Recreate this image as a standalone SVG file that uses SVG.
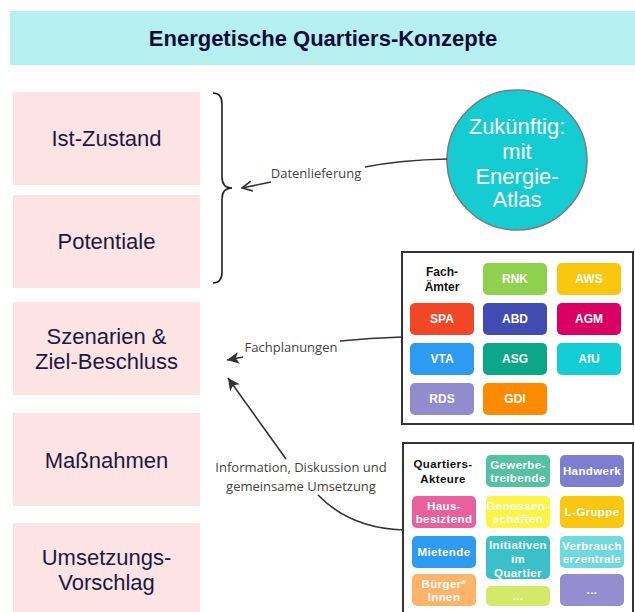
<svg xmlns="http://www.w3.org/2000/svg" width="635" height="612" viewBox="0 0 635 612">
<style>
.step{fill:#fde3e4}
.steptxt{font-family:"Liberation Sans",Arial,sans-serif;font-size:22px;fill:#1a1a40;text-anchor:middle}
.lbl{font-family:"Open Sans","DejaVu Sans",sans-serif;font-size:13px;fill:#444;text-anchor:middle}
.conn{fill:none;stroke:#333;stroke-width:1.6}
.cell text,.ctxt{font-family:"Liberation Sans",Arial,sans-serif;font-size:11.5px;font-weight:bold;fill:#fff;text-anchor:middle}
.f text{font-size:12px}
.q{letter-spacing:0.4px}
.head{font-family:"Liberation Sans",Arial,sans-serif;font-size:11.5px;font-weight:bold;fill:#111;text-anchor:middle}
.panel{fill:#fff;stroke:#333;stroke-width:2}
</style>
<defs>
<marker id="open" viewBox="0 0 12 12" refX="11" refY="6" markerWidth="12" markerHeight="12" markerUnits="userSpaceOnUse" orient="auto">
<path d="M1,1 L11,6 L1,11" fill="none" stroke="#333" stroke-width="1.6"/>
</marker>
<marker id="solid" viewBox="0 0 14 14" refX="13" refY="7" markerWidth="14" markerHeight="14" markerUnits="userSpaceOnUse" orient="auto">
<path d="M1,1 L13,7 L1,13 L4,7 Z" fill="#333"/>
</marker>
</defs>
<g id="title">
<rect x="10" y="11" width="625" height="54" fill="#b6eff0"/>
<text x="323" y="46" font-family="'Liberation Sans',Arial,sans-serif" font-size="22" font-weight="bold" fill="#0d0d3a" text-anchor="middle">Energetische Quartiers-Konzepte</text>
</g>
<g id="ist-zustand"><rect class="step" x="13" y="92" width="187" height="93"/><text class="steptxt" x="106.5" y="146">Ist-Zustand</text></g>
<g id="potentiale"><rect class="step" x="13" y="195" width="187" height="93"/><text class="steptxt" x="106.5" y="249">Potentiale</text></g>
<g id="szenarien"><rect class="step" x="13" y="302" width="187" height="93"/><text class="steptxt" x="106.5" y="344">Szenarien &amp;</text><text class="steptxt" x="106.5" y="369">Ziel-Beschluss</text></g>
<g id="massnahmen"><rect class="step" x="13" y="413" width="187" height="93"/><text class="steptxt" x="106.5" y="468">Maßnahmen</text></g>
<g id="umsetzung"><rect class="step" x="13" y="523" width="187" height="95"/><text class="steptxt" x="106.5" y="565">Umsetzungs-</text><text class="steptxt" x="106.5" y="590">Vorschlag</text></g>
<g id="brace"><path d="M213,93 Q222,93 222,104 L222,177 Q222,188 232,188 Q222,188 222,199 L222,272 Q222,283 213,283" fill="none" stroke="#222" stroke-width="1.6"/></g>
<g id="energie-atlas">
<circle cx="517" cy="160" r="70" fill="#16ccd3" stroke="#7a7a7a" stroke-width="1.5"/>
<g font-family="'Liberation Sans',Arial,sans-serif" font-size="22" fill="#fff" text-anchor="middle">
<text x="517" y="134">Zukünftig:</text><text x="517" y="159">mit</text><text x="517" y="184">Energie-</text><text x="517" y="207">Atlas</text>
</g>
</g>
<g id="fachaemter" class="f">
<rect class="panel" x="402" y="252" width="231" height="172"/>
<text class="head" x="442" y="276">Fach-</text><text class="head" x="442" y="291">Ämter</text>
<g class="cell"><rect x="483" y="263" width="64" height="32" rx="5" fill="#8fd14f"/><text x="515" y="283">RNK</text></g>
<g class="cell"><rect x="557" y="263" width="64" height="32" rx="5" fill="#fac710"/><text x="589" y="283">AWS</text></g>
<g class="cell"><rect x="410" y="303" width="64" height="32" rx="5" fill="#f24726"/><text x="442" y="323">SPA</text></g>
<g class="cell"><rect x="483" y="303" width="64" height="32" rx="5" fill="#414bb2"/><text x="515" y="323">ABD</text></g>
<g class="cell"><rect x="557" y="303" width="64" height="32" rx="5" fill="#da0063"/><text x="589" y="323">AGM</text></g>
<g class="cell"><rect x="410" y="343" width="64" height="32" rx="5" fill="#2d9bf0"/><text x="442" y="363">VTA</text></g>
<g class="cell"><rect x="483" y="343" width="64" height="32" rx="5" fill="#0ca789"/><text x="515" y="363">ASG</text></g>
<g class="cell"><rect x="557" y="343" width="64" height="32" rx="5" fill="#12cdd4"/><text x="589" y="363">AfU</text></g>
<g class="cell"><rect x="410" y="383" width="64" height="32" rx="5" fill="#928bce"/><text x="442" y="403">RDS</text></g>
<g class="cell"><rect x="483" y="383" width="64" height="32" rx="5" fill="#fc8b00"/><text x="515" y="403">GDI</text></g>
</g>
<g id="quartiersakteure">
<rect class="panel" x="403" y="443" width="230" height="185"/>
<text class="head q" x="443" y="468">Quartiers-</text><text class="head q" x="443" y="483">Akteure</text>
<g class="cell q"><rect x="486" y="455" width="64" height="32" rx="5" fill="#52c2a0"/><text x="518" y="469">Gewerbe-</text><text x="518" y="482">treibende</text></g>
<g class="cell q"><rect x="560" y="455" width="64" height="32" rx="5" fill="#7c7fd0"/><text x="592" y="475">Handwerk</text></g>
<g class="cell q"><rect x="412" y="496" width="64" height="32" rx="5" fill="#e8609e"/><text x="444" y="510">Haus-</text><text x="444" y="523">besiztend</text></g>
<g class="cell q"><rect x="486" y="496" width="64" height="32" rx="5" fill="#fef445"/><text x="518" y="510">Genossen-</text><text x="518" y="523">schaften</text></g>
<g class="cell q"><rect x="560" y="496" width="64" height="32" rx="5" fill="#fac710"/><text x="592" y="516">L-Gruppe</text></g>
<g class="cell q"><rect x="412" y="536" width="64" height="32" rx="5" fill="#2d9bf0"/><text x="444" y="556">Mietende</text></g>
<g class="cell q"><rect x="486" y="536" width="64" height="43" rx="5" fill="#3ac0c9"/><text x="518" y="549">Initiativen</text><text x="518" y="563">im</text><text x="518" y="577">Quartier</text></g>
<g class="cell q"><rect x="560" y="536" width="64" height="32" rx="5" fill="#6fd9dd"/><text x="592" y="550">Verbrauch</text><text x="592" y="563">erzentrale</text></g>
<g class="cell q"><rect x="412" y="574" width="64" height="32" rx="5" fill="#ffb46a"/><text x="444" y="588">Bürger*</text><text x="444" y="601">Innen</text></g>
<g class="cell q"><rect x="486" y="586" width="64" height="20" rx="5" fill="#d4e86a"/><text x="518" y="600">...</text></g>
<g class="cell q"><rect x="560" y="574" width="64" height="32" rx="5" fill="#958dd0"/><text x="592" y="594">...</text></g>
</g>
<g id="connectors">
<path class="conn" d="M447,159 Q400,160 365,167"/>
<path class="conn" d="M271,182 L242,188" marker-end="url(#open)"/>
<text class="lbl" x="316" y="178">Datenlieferung</text>
<path class="conn" d="M402,337 Q370,338 340,341"/>
<path class="conn" d="M243,357 L227,360" marker-end="url(#solid)"/>
<text class="lbl" x="291" y="352">Fachplanungen</text>
<path class="conn" d="M286,459 L228,378" marker-end="url(#solid)"/>
<path class="conn" d="M318,495 Q350,528 403,530"/>
<text class="lbl" x="301" y="472">Information, Diskussion und</text>
<text class="lbl" x="301" y="491">gemeinsame Umsetzung</text>
</g>
</svg>
